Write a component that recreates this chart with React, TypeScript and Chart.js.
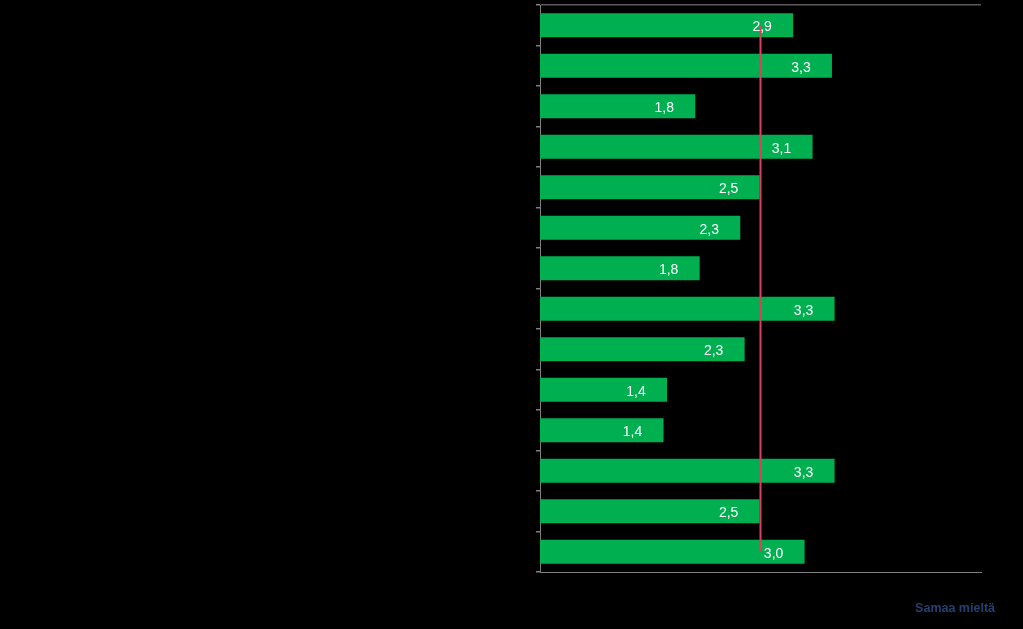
import React, { useEffect, useRef } from "react";
import { Chart, registerables } from "chart.js";

Chart.register(...registerables);

const categories = [
  "Väite 1", "Väite 2", "Väite 3", "Väite 4", "Väite 5", "Väite 6", "Väite 7",
  "Väite 8", "Väite 9", "Väite 10", "Väite 11", "Väite 12", "Väite 13", "Väite 14",
];
const agreeValues = [2.87, 3.31, 1.76, 3.09, 2.49, 2.27, 1.81, 3.34, 2.32, 1.44, 1.4, 3.34, 2.49, 3.0];
const averageLine = [2.5, 2.5, 2.5, 2.5, 2.5, 2.5, 2.5, 2.5, 2.5, 2.5, 2.5, 2.5, 2.5, 2.5];
const xMin = 0;
const xMax = 5;
const footerText = "Samaa mieltä";

const fmt = (v: number) => v.toFixed(1).replace(".", ",");

const labelPlugin = {
  id: "barLabels",
  afterDatasetsDraw(chart: any) {
    const ctx = chart.ctx;
    const meta = chart.getDatasetMeta(0);
    ctx.save();
    ctx.font = "14px 'Liberation Sans', Arial, sans-serif";
    ctx.fillStyle = "#ffffff";
    ctx.textAlign = "center";
    ctx.textBaseline = "middle";
    meta.data.forEach((bar: any, i: number) => {
      const v = agreeValues[i];
      ctx.fillText(fmt(v), bar.x - 31, bar.y + 2);
    });
    ctx.restore();
  },
  afterDraw(chart: any) {
    const ctx = chart.ctx;
    ctx.save();
    ctx.font = "bold 12.5px 'Liberation Sans', Arial, sans-serif";
    ctx.fillStyle = "#24406e";
    ctx.textAlign = "right";
    ctx.textBaseline = "middle";
    ctx.fillText(footerText, 995, 609);
    ctx.restore();
  },
};

export default function App() {
  const ref = useRef<HTMLCanvasElement | null>(null);
  useEffect(() => {
    if (!ref.current) return;
    const chart = new Chart(ref.current, {
      type: "bar",
      data: {
        labels: categories,
        datasets: [
          {
            type: "bar",
            data: agreeValues,
            backgroundColor: "#00b050",
            borderWidth: 0,
            categoryPercentage: 1,
            barPercentage: 0.59,
            order: 2,
          } as any,
          {
            type: "line",
            indexAxis: "y",
            data: averageLine,
            borderColor: "#d9405e",
            borderWidth: 2,
            pointRadius: 0,
            fill: false,
            order: 1,
          } as any,
        ],
      },
      options: {
        indexAxis: "y",
        responsive: false,
        animation: false,
        events: [],
        layout: { padding: { left: 536, top: 5, right: 42, bottom: 57 } },
        plugins: { legend: { display: false }, tooltip: { enabled: false }, title: { display: false } },
        scales: {
          x: {
            min: xMin,
            max: xMax,
            ticks: { display: false },
            grid: { display: false, drawTicks: false },
            border: { display: true, color: "#7f7f7f", width: 1 },
            afterFit: (s: any) => { s.height = 0; },
          },
          y: {
            offset: true,
            ticks: { display: false },
            grid: {
              offset: true,
              drawTicks: true,
              tickLength: 4,
              color: (c: any) => (c.index === 0 ? "#5a5a5a" : "rgba(0,0,0,0)"),
              tickColor: "#7f7f7f",
              lineWidth: 1.5,
            },
            border: { display: true, color: "#7f7f7f", width: 1 },
            afterFit: (s: any) => { s.width = 4; },
          },
        },
      },
      plugins: [labelPlugin],
    });
    return () => chart.destroy();
  }, []);
  return (
    <div style={{ position: "absolute", left: 0, top: 0, width: 1023, height: 629, background: "#000" }}>
      <canvas ref={ref} width={1023} height={629} />
    </div>
  );
}
